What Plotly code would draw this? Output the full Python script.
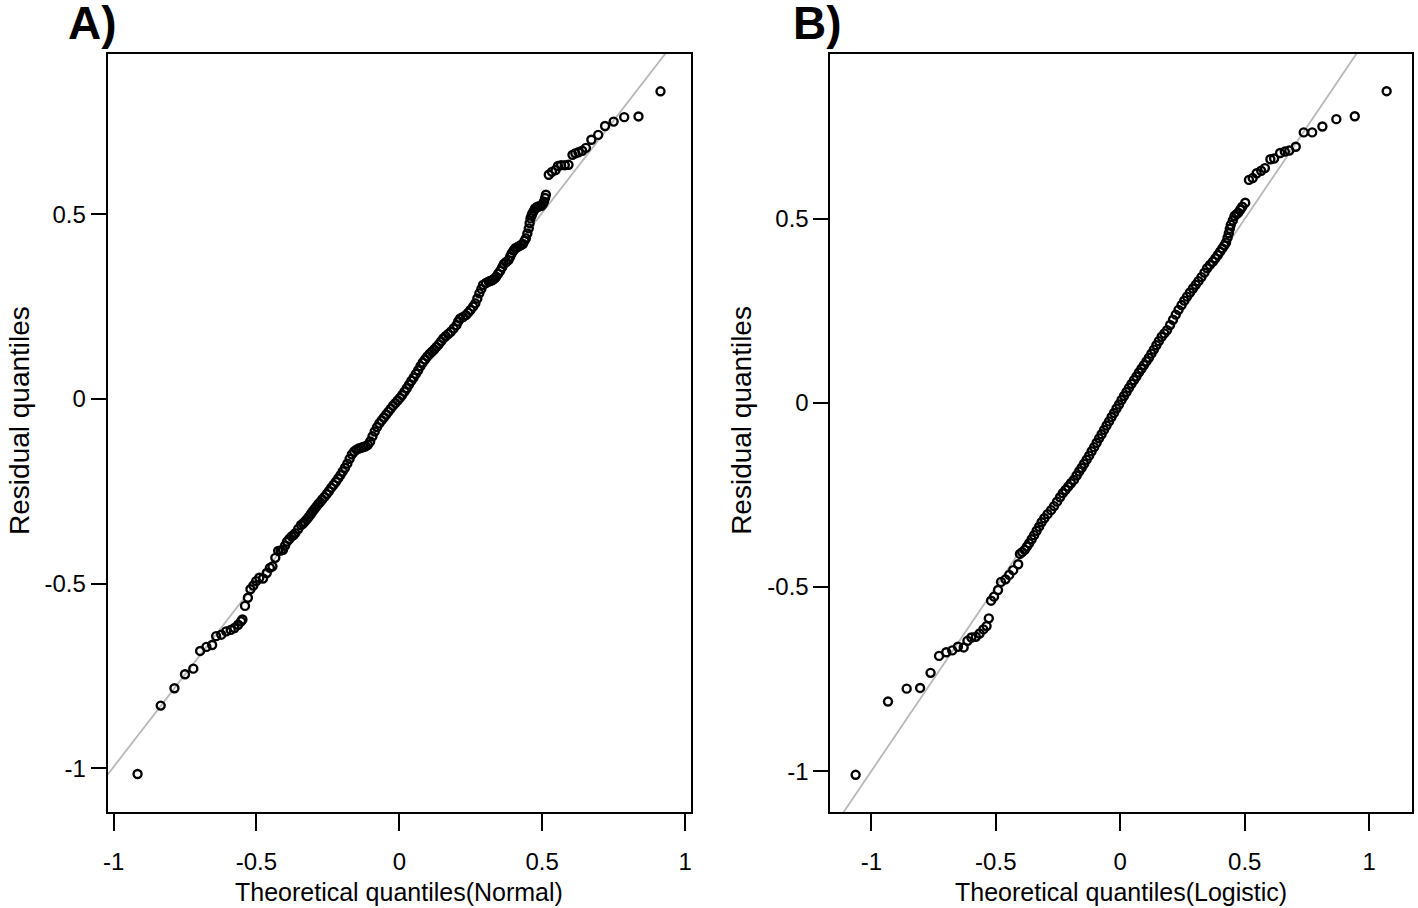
import plotly.graph_objects as go

# ---------------- data ----------------
# Panel A: theoretical quantiles (Normal) vs residual quantiles
normal_theoretical = [
    -0.916, -0.835, -0.787, -0.750, -0.721, -0.697, -0.675, -0.655, -0.641, -0.623,
    -0.606, -0.590, -0.577, -0.564, -0.554, -0.549, -0.540, -0.530, -0.521, -0.511,
    -0.501, -0.490, -0.477, -0.464, -0.453, -0.444, -0.434, -0.424, -0.415, -0.407,
    -0.400, -0.393, -0.385, -0.377, -0.370, -0.364, -0.354, -0.344, -0.337, -0.331,
    -0.324, -0.317, -0.310, -0.304, -0.297, -0.291, -0.284, -0.277,
    -0.270, -0.262, -0.254, -0.246, -0.238, -0.230, -0.222, -0.214, -0.206, -0.198,
    -0.190, -0.182, -0.174, -0.166, -0.158, -0.150, -0.142, -0.134, -0.126, -0.118,
    -0.110, -0.102, -0.094, -0.086, -0.078, -0.070, -0.062, -0.054, -0.046, -0.038,
    -0.030, -0.022, -0.014, -0.006, 0.002, 0.010, 0.018, 0.026, 0.034, 0.042,
    0.050, 0.058, 0.066, 0.074, 0.082, 0.090, 0.098, 0.106, 0.114, 0.122,
    0.130, 0.138, 0.146, 0.154, 0.162, 0.171, 0.180, 0.190, 0.200, 0.206,
    0.213, 0.223, 0.233, 0.241, 0.249, 0.258, 0.266, 0.273, 0.280, 0.287,
    0.293, 0.303, 0.313, 0.320, 0.326, 0.333, 0.339, 0.346, 0.353, 0.360,
    0.366, 0.374, 0.382, 0.388, 0.393, 0.400, 0.406, 0.413, 0.419, 0.426,
    0.433, 0.438, 0.443, 0.448, 0.453, 0.456, 0.459, 0.463, 0.466, 0.471,
    0.475, 0.481, 0.486, 0.492, 0.497, 0.502, 0.506, 0.510, 0.513,
    0.523, 0.534, 0.547, 0.555, 0.566, 0.579, 0.592, 0.606, 0.616, 0.627,
    0.640, 0.653, 0.672, 0.696, 0.720, 0.750, 0.787, 0.837, 0.914,
]
normal_residual = [
    -1.015, -0.830, -0.783, -0.745, -0.730, -0.682, -0.671, -0.666, -0.642, -0.638,
    -0.629, -0.625, -0.620, -0.611, -0.602, -0.597, -0.560, -0.538, -0.515, -0.505,
    -0.493, -0.484, -0.486, -0.471, -0.457, -0.453, -0.430, -0.411, -0.410, -0.408,
    -0.397, -0.386, -0.379, -0.372, -0.368, -0.363, -0.352, -0.341, -0.337, -0.332,
    -0.326, -0.319, -0.312, -0.305, -0.298, -0.292, -0.285, -0.279,
    -0.272, -0.265, -0.257, -0.249, -0.240, -0.232, -0.224, -0.215, -0.206, -0.196,
    -0.186, -0.175, -0.162, -0.150, -0.142, -0.137, -0.134, -0.132, -0.130, -0.128,
    -0.124, -0.115, -0.101, -0.088, -0.076, -0.066, -0.058, -0.050, -0.042, -0.034,
    -0.026, -0.018, -0.011, -0.004, 0.003, 0.011, 0.020, 0.029, 0.039, 0.049,
    0.058, 0.068, 0.078, 0.089, 0.099, 0.107, 0.115, 0.122, 0.128, 0.134,
    0.141, 0.148, 0.156, 0.164, 0.170, 0.176, 0.182, 0.191, 0.200, 0.210,
    0.218, 0.222, 0.227, 0.234, 0.241, 0.250, 0.259, 0.272, 0.286, 0.298,
    0.309, 0.314, 0.318, 0.320, 0.322, 0.326, 0.331, 0.339, 0.347, 0.357,
    0.366, 0.371, 0.376, 0.385, 0.394, 0.402, 0.408, 0.411, 0.414, 0.417,
    0.420, 0.428, 0.435, 0.448, 0.462, 0.476, 0.489, 0.497, 0.503, 0.510,
    0.516, 0.519, 0.521, 0.522, 0.523, 0.528, 0.534, 0.544, 0.553,
    0.607, 0.615, 0.620, 0.631, 0.633, 0.633, 0.634, 0.661, 0.665, 0.668,
    0.672, 0.680, 0.702, 0.715, 0.739, 0.751, 0.763, 0.765, 0.833,
]

# Panel B: theoretical quantiles (Logistic) vs residual quantiles
logistic_theoretical = [
    -1.063, -0.933, -0.858, -0.804, -0.762, -0.728, -0.699, -0.675, -0.652, -0.629,
    -0.614, -0.598, -0.580, -0.565, -0.550, -0.537, -0.528, -0.519, -0.507, -0.491,
    -0.479, -0.461, -0.446, -0.430, -0.410, -0.403, -0.394, -0.384, -0.375, -0.366,
    -0.356, -0.346, -0.336, -0.326, -0.316, -0.305, -0.292, -0.278, -0.266, -0.254,
    -0.242, -0.231, -0.220, -0.209, -0.198, -0.186,
    -0.175, -0.165, -0.155, -0.145, -0.135, -0.125, -0.115, -0.105, -0.095, -0.085,
    -0.075, -0.065, -0.055, -0.045, -0.035, -0.025, -0.015, -0.005, 0.005, 0.015,
    0.025, 0.035, 0.045, 0.055, 0.065, 0.075, 0.085, 0.095, 0.105, 0.115,
    0.125, 0.135, 0.145, 0.155,
    0.166, 0.177, 0.188, 0.200, 0.212, 0.223, 0.234, 0.246, 0.257, 0.268,
    0.280, 0.292, 0.303, 0.314, 0.326, 0.338, 0.349, 0.360, 0.372, 0.382,
    0.392, 0.401, 0.410, 0.418, 0.425, 0.431, 0.436, 0.440, 0.444, 0.452,
    0.459, 0.467, 0.474, 0.482, 0.490, 0.502,
    0.517, 0.532, 0.548, 0.566, 0.581, 0.603, 0.618, 0.642, 0.661, 0.679,
    0.705, 0.737, 0.771, 0.812, 0.868, 0.942, 1.070,
]
logistic_residual = [
    -1.010, -0.811, -0.776, -0.774, -0.733, -0.687, -0.677, -0.672, -0.662, -0.664,
    -0.646, -0.637, -0.635, -0.626, -0.615, -0.606, -0.585, -0.537, -0.526, -0.508,
    -0.486, -0.479, -0.467, -0.454, -0.438, -0.410, -0.405, -0.399, -0.390, -0.381,
    -0.370, -0.359, -0.347, -0.336, -0.324, -0.313, -0.302, -0.291, -0.280, -0.268,
    -0.256, -0.245, -0.236, -0.227, -0.218, -0.209,
    -0.197, -0.186, -0.176, -0.165, -0.154, -0.143, -0.131, -0.120, -0.108, -0.096,
    -0.085, -0.073, -0.061, -0.050, -0.038, -0.027, -0.015, -0.004, 0.008, 0.019,
    0.030, 0.041, 0.052, 0.062, 0.072, 0.083, 0.093, 0.103, 0.113, 0.123,
    0.134, 0.145, 0.157, 0.168,
    0.180, 0.189, 0.198, 0.212, 0.226, 0.240, 0.253, 0.266, 0.278, 0.289,
    0.300, 0.311, 0.321, 0.331, 0.342, 0.354, 0.366, 0.375, 0.384, 0.393,
    0.402, 0.411, 0.420, 0.428, 0.436, 0.449, 0.461, 0.473, 0.484, 0.496,
    0.508, 0.513, 0.517, 0.525, 0.533, 0.544,
    0.606, 0.611, 0.624, 0.631, 0.638, 0.662, 0.664, 0.679, 0.683, 0.686,
    0.696, 0.735, 0.735, 0.751, 0.771, 0.779, 0.847,
]

# reference (qq) lines: slope / intercept
qqline_a = {"slope": 1.0, "intercept": 0.004}
qqline_b = {"slope": 1.0, "intercept": 0.0}

x_tickvals = [-1, -0.5, 0, 0.5, 1]
x_ticktext = ["-1", "-0.5", "0", "0.5", "1"]
y_tickvals = [-1, -0.5, 0, 0.5]
y_ticktext = ["-1", "-0.5", "0", "0.5"]

panel_labels = ["A)", "B)"]
x_titles = ["Theoretical quantiles(Normal)", "Theoretical quantiles(Logistic)"]
y_title = "Residual quantiles"

# ---------------- layout geometry ----------------
W, H = 1418, 908
FONT = "Liberation Sans, Arial, sans-serif"
x_range_a = [-1.021, 1.021]
y_range_a = [-1.118, 0.934]
x_range_b = [-1.164, 1.172]
y_range_b = [-1.111, 0.948]

dom_x_a = [103 / W, 689 / W]
dom_x_b = [829 / W, 1413 / W]
dom_y = [1 - 812 / H, 1 - 54 / H]

fig = go.Figure()

def add_panel(xs, ys, line, xr, xref, yref):
    lx = [xr[0] - 0.2, xr[1] + 0.2]
    ly = [line["slope"] * v + line["intercept"] for v in lx]
    fig.add_trace(go.Scatter(
        x=lx, y=ly, mode="lines", xaxis=xref, yaxis=yref,
        line=dict(color="#b8b8b8", width=1.8), hoverinfo="skip", showlegend=False))
    fig.add_trace(go.Scatter(
        x=xs, y=ys, mode="markers", xaxis=xref, yaxis=yref,
        marker=dict(symbol="circle-open", size=8, color="black",
                    line=dict(color="black", width=2.4)),
        showlegend=False))

add_panel(normal_theoretical, normal_residual, qqline_a, x_range_a, "x", "y")
add_panel(logistic_theoretical, logistic_residual, qqline_b, x_range_b, "x2", "y2")

TICK_SIZE = 24
XTITLE_SIZE = 25
YTITLE_SIZE = 28

x_common = dict(
    showgrid=False, zeroline=False, showline=True, linecolor="black", linewidth=2,
    mirror=True, ticks="outside", ticklen=17, tickwidth=2, tickcolor="black",
    tickfont=dict(family=FONT, size=TICK_SIZE, color="black"), ticklabelstandoff=10,
)
y_common = dict(x_common, ticklen=15, ticklabelstandoff=0)

fig.update_layout(
    width=W, height=H,
    margin=dict(l=0, r=0, t=0, b=0),
    paper_bgcolor="white", plot_bgcolor="white",
    xaxis=dict(domain=dom_x_a, range=x_range_a, anchor="y",
               tickvals=x_tickvals, ticktext=x_ticktext, **x_common),
    yaxis=dict(domain=dom_y, range=y_range_a, anchor="x",
               tickvals=y_tickvals, ticktext=y_ticktext, **y_common),
    xaxis2=dict(domain=dom_x_b, range=x_range_b, anchor="y2",
                tickvals=x_tickvals, ticktext=x_ticktext, **x_common),
    yaxis2=dict(domain=dom_y, range=y_range_b, anchor="x2",
                tickvals=y_tickvals, ticktext=y_ticktext, **y_common),
)

annots = []
# panel labels
for lab, xpx in zip(panel_labels, [61, 789]):
    annots.append(dict(text="<b>" + lab + "</b>", xref="paper", yref="paper",
                       x=xpx / W, y=1 - 23 / H, xanchor="left", yanchor="middle",
                       showarrow=False, font=dict(family=FONT, size=46, color="black")))
# x axis titles
for t, dom in zip(x_titles, [dom_x_a, dom_x_b]):
    annots.append(dict(text=t, xref="paper", yref="paper",
                       x=(dom[0] + dom[1]) / 2, y=1 - 892 / H, xanchor="center", yanchor="middle",
                       showarrow=False, font=dict(family=FONT, size=XTITLE_SIZE, color="black")))
# y axis titles
for xpx in [14, 739]:
    annots.append(dict(text=y_title, xref="paper", yref="paper", textangle=-90,
                       x=xpx / W, y=1 - 420 / H, xanchor="center", yanchor="middle",
                       showarrow=False, font=dict(family=FONT, size=YTITLE_SIZE, color="black")))
fig.update_layout(annotations=annots)

fig.write_html(
    "out.html",
    config={"displayModeBar": False},
    post_script="document.body.style.margin='0px';document.body.style.padding='0px';"
                "document.body.style.overflow='hidden';",
)
